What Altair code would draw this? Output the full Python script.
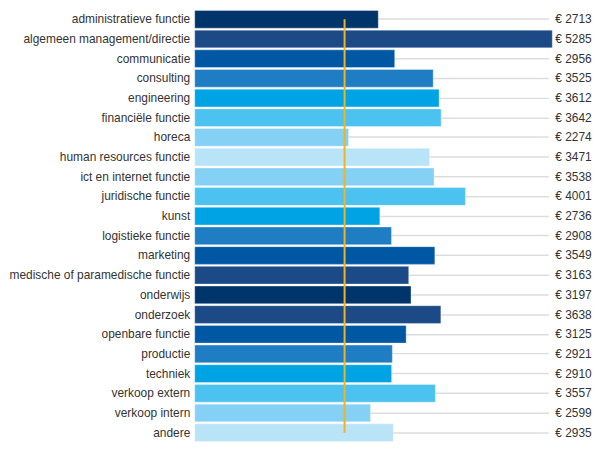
import altair as alt
import pandas as pd

categories = [
    "administratieve functie", "algemeen management/directie", "communicatie",
    "consulting", "engineering", "financiële functie", "horeca",
    "human resources functie", "ict en internet functie", "juridische functie",
    "kunst", "logistieke functie", "marketing", "medische of paramedische functie",
    "onderwijs", "onderzoek", "openbare functie", "productie", "techniek",
    "verkoop extern", "verkoop intern", "andere",
]
values = [2713, 5285, 2956, 3525, 3612, 3642, 2274, 3471, 3538, 4001, 2736,
          2908, 3549, 3163, 3197, 3638, 3125, 2921, 2910, 3557, 2599, 2935]
labels = ["€ " + str(v) for v in values]
average_value = 2215

palette = ["#00356b", "#1b4a86", "#0058a5", "#1f7dc4", "#00a4e4",
           "#4bc2ef", "#85d1f5", "#b9e4f8"]
bounce = [0, 1, 2, 3, 4, 5, 6, 7, 6, 5, 4, 3, 2, 1, 0, 1, 2, 3, 4, 5, 6, 7]
bar_colors = [palette[i] for i in bounce]

df = pd.DataFrame({"category": categories, "value": values, "label": labels})
rule_df = pd.DataFrame({"avg": [average_value], "first": [categories[0]],
                        "last": [categories[-1]]})

X_MAX = 5226
xscale = alt.Scale(domain=[0, X_MAX], nice=False)
yscale = alt.Scale(domain=categories, paddingInner=0.1)

base = alt.Chart(df)

bars = base.mark_bar(stroke="white", strokeWidth=1, strokeOpacity=0.35, clip=False).encode(
    y=alt.Y("category:N", sort=None, scale=yscale, title=None,
            axis=alt.Axis(grid=True, gridColor="#dddddd", gridWidth=1.5,
                          ticks=False, domain=False, labelPadding=5,
                          labelFontSize=12, labelColor="#333333",
                          labelFont="Liberation Sans", labelLimit=300)),
    x=alt.X("value:Q", scale=xscale, axis=None),
    color=alt.Color("category:N", scale=alt.Scale(domain=categories, range=bar_colors),
                    legend=None),
)

texts = base.mark_text(align="left", baseline="middle", dx=7, fontSize=12,
                       font="Liberation Sans", color="#333333").encode(
    y=alt.Y("category:N", sort=None, scale=yscale),
    x=alt.datum(X_MAX),
    text="label:N",
)

rule = alt.Chart(rule_df).mark_rule(color="#f0b323", strokeWidth=2).encode(
    x=alt.X("avg:Q", scale=xscale),
    y=alt.Y("first:N", scale=yscale),
    y2="last:N",
)

chart = alt.layer(bars, texts, rule).properties(
    width=356, height=436,
    padding={"left": 0, "top": 0, "right": 0, "bottom": 0},
).configure_view(stroke=None)

chart.save("out.html", embed_options={"renderer": "svg", "actions": False})
